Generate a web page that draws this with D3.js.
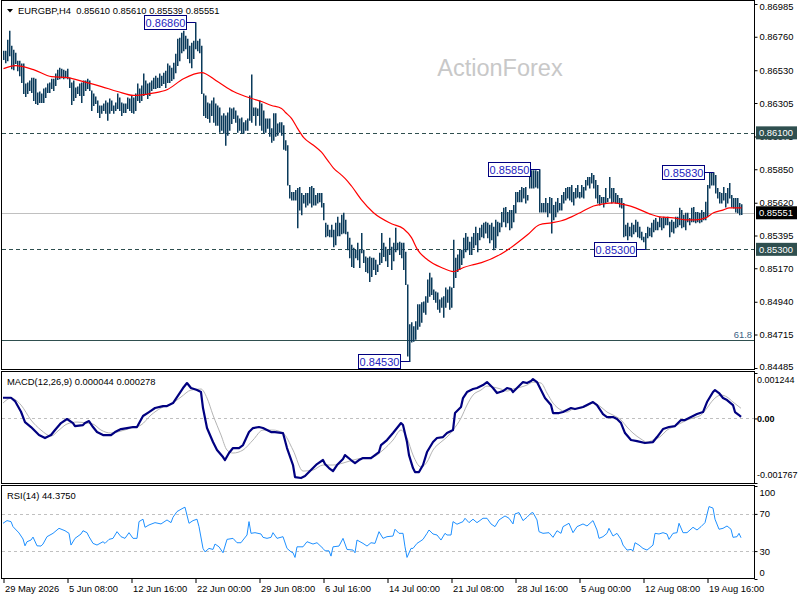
<!DOCTYPE html>
<html><head><meta charset="utf-8">
<script src="https://cdn.jsdelivr.net/npm/d3@7/dist/d3.min.js"></script>
<style>html,body{margin:0;padding:0;background:#fff;}svg{display:block;}</style>
</head><body>
<svg id="c" width="800" height="600"></svg>
<script>
// ---------------- DATA ----------------
const symbol = "EURGBP,H4";
const lastOHLC = [0.85610, 0.85610, 0.85539, 0.85551];
const watermark = "ActionForex";

// H4 bar highs and lows (370 bars, 29 May 2026 -> 24 Aug 2026)
const highs = [
.86664,.86664,.86739,.86801,.86698,.86671,.86650,.86596,.86596,.86576,
.86576,.86439,.86445,.86459,.86479,.86479,.86472,.86377,.86384,.86371,
.86405,.86412,.86439,.86445,.86472,.86472,.86507,.86534,.86548,.86541,
.86534,.86527,.86541,.86479,.86445,.86459,.86412,.86418,.86439,.86445,
.86459,.86459,.86472,.86459,.86391,.86371,.86350,.86322,.86288,.86288,
.86302,.86322,.86308,.86336,.86322,.86288,.86308,.86371,.86343,.86308,
.86302,.86302,.86343,.86336,.86357,.86343,.86371,.86439,.86405,.86425,
.86507,.86459,.86439,.86445,.86459,.86479,.86493,.86479,.86507,.86493,
.86513,.86527,.86576,.86562,.86548,.86582,.86643,.86746,.86753,.86787,
.86801,.86767,.86746,.86698,.86719,.86732,.86860,.86732,.86746,.86698,
.86371,.86357,.86308,.86302,.86322,.86343,.86302,.86288,.86274,.86220,
.86234,.86220,.86240,.86274,.86268,.86274,.86254,.86220,.86199,.86206,
.86172,.86186,.86199,.86357,.86500,.86274,.86274,.86268,.86322,.86302,
.86254,.86199,.86199,.86199,.86131,.86234,.86234,.86165,.86172,.86172,
.86152,.86049,.86015,.85742,.85694,.85694,.85708,.85722,.85728,.85687,
.85674,.85687,.85687,.85728,.85735,.85722,.85674,.85687,.85687,.85687,
.85619,.85482,.85469,.85434,.85469,.85434,.85482,.85523,.85482,.85537,
.85551,.85503,.85421,.85380,.85332,.85311,.85298,.85345,.85298,.85413,
.85298,.85250,.85243,.85250,.85243,.85243,.85229,.85195,.85277,.85413,
.85345,.85318,.85298,.85380,.85318,.85345,.85448,.85345,.85352,.85345,
.85345,.85284,.85059,.84785,.84799,.84772,.84806,.84922,.84922,.84936,
.84942,.84977,.85093,.85140,.85107,.85025,.85011,.85004,.84956,.84970,
.84977,.85038,.85025,.85045,.85038,.85366,.85243,.85264,.85298,.85298,
.85380,.85413,.85386,.85352,.85386,.85413,.85455,.85413,.85448,.85469,
.85482,.85489,.85482,.85469,.85482,.85455,.85503,.85489,.85482,.85557,
.85585,.85591,.85557,.85571,.85571,.85605,.85694,.85694,.85708,.85728,
.85722,.85728,.85674,.85810,.85844,.85844,.85844,.85837,.85850,.85619,
.85619,.85653,.85619,.85660,.85653,.85605,.85626,.85653,.85619,.85674,
.85694,.85722,.85728,.85728,.85742,.85694,.85722,.85742,.85694,.85742,
.85728,.85776,.85797,.85797,.85824,.85810,.85776,.85742,.85674,.85660,
.85660,.85722,.85653,.85797,.85722,.85722,.85687,.85674,.85653,.85653,
.85619,.85469,.85482,.85455,.85482,.85469,.85503,.85489,.85455,.85421,
.85386,.85413,.85455,.85448,.85482,.85503,.85516,.85489,.85523,.85516,
.85523,.85516,.85523,.85489,.85503,.85489,.85523,.85523,.85585,.85571,
.85537,.85551,.85551,.85516,.85585,.85591,.85557,.85557,.85551,.85571,
.85557,.85626,.85742,.85824,.85824,.85830,.85810,.85722,.85694,.85687,
.85728,.85687,.85722,.85756,.85674,.85653,.85653,.85653,.85619,.85610];
const lows = [
.86603,.86582,.86596,.86630,.86541,.86534,.86576,.86527,.86493,.86445,
.86371,.86350,.86371,.86391,.86377,.86322,.86302,.86295,.86308,.86308,
.86308,.86343,.86377,.86377,.86405,.86391,.86425,.86466,.86472,.86479,
.86472,.86479,.86472,.86412,.86295,.86322,.86343,.86371,.86357,.86308,
.86357,.86391,.86405,.86391,.86254,.86288,.86302,.86240,.86206,.86234,
.86254,.86234,.86186,.86234,.86254,.86234,.86254,.86268,.86254,.86220,
.86240,.86240,.86268,.86254,.86240,.86234,.86254,.86322,.86308,.86322,
.86357,.86371,.86336,.86357,.86391,.86405,.86405,.86412,.86412,.86425,
.86439,.86412,.86445,.86445,.86459,.86472,.86513,.86562,.86596,.86650,
.86664,.86678,.86610,.86582,.86548,.86610,.86678,.86664,.86650,.86371,
.86220,.86206,.86199,.86172,.86220,.86172,.86152,.86152,.86104,.86118,
.86097,.86015,.86083,.86118,.86165,.86199,.86172,.86104,.86118,.86097,
.86097,.86118,.86118,.86186,.86172,.86220,.86152,.86220,.86152,.86118,
.86097,.86104,.86131,.86076,.86035,.86049,.86076,.86083,.86104,.86083,
.85988,.85981,.85742,.85653,.85639,.85639,.85639,.85448,.85571,.85537,
.85619,.85591,.85605,.85619,.85591,.85605,.85605,.85619,.85626,.85591,
.85503,.85386,.85393,.85386,.85386,.85318,.85332,.85393,.85393,.85407,
.85413,.85407,.85298,.85243,.85182,.85175,.85243,.85229,.85175,.85277,
.85209,.85147,.85140,.85079,.85113,.85161,.85127,.85147,.85195,.85209,
.85250,.85222,.85182,.85264,.85161,.85222,.85284,.85298,.85264,.85243,
.85161,.85059,.84567,.84530,.84663,.84669,.84683,.84751,.84772,.84799,
.84868,.84854,.84936,.84977,.84990,.84956,.84936,.84888,.84868,.84902,
.84834,.84902,.84936,.84888,.84902,.85038,.85107,.85147,.85161,.85195,
.85243,.85284,.85298,.85264,.85264,.85311,.85332,.85284,.85366,.85386,
.85380,.85413,.85380,.85345,.85366,.85298,.85311,.85393,.85421,.85455,
.85489,.85455,.85482,.85434,.85448,.85489,.85551,.85626,.85626,.85626,
.85653,.85619,.85639,.85722,.85722,.85722,.85728,.85722,.85557,.85557,
.85557,.85557,.85523,.85551,.85413,.85503,.85523,.85557,.85571,.85571,
.85619,.85639,.85653,.85639,.85626,.85605,.85653,.85660,.85653,.85660,
.85653,.85708,.85742,.85722,.85756,.85722,.85653,.85619,.85605,.85619,
.85591,.85619,.85626,.85653,.85619,.85626,.85619,.85619,.85591,.85584,
.85386,.85393,.85366,.85393,.85386,.85407,.85421,.85386,.85380,.85366,
.85352,.85300,.85380,.85393,.85386,.85421,.85434,.85434,.85455,.85434,
.85448,.85469,.85469,.85386,.85421,.85413,.85448,.85455,.85469,.85448,
.85455,.85434,.85489,.85469,.85489,.85489,.85482,.85489,.85482,.85489,
.85503,.85503,.85523,.85722,.85742,.85742,.85687,.85653,.85619,.85619,
.85639,.85591,.85619,.85653,.85591,.85584,.85557,.85551,.85537,.85539];

// Moving average (red) read at bar indices
const maBar = [0,6,15,24,32,40,49,57,65,74,82,90,99,107,115,124,129,134,139,141,144,147,150,155,159,162,165,169,172,174,179,185,194,200,204,207,212,219,225,230,235,239,249,255,262,268,274,279,284,289,295,300,305,311,316,323,328,335,341,346,351,355,360,363,369];
const maVal = [.86541,.86562,.86534,.86486,.86479,.86452,.86418,.86384,.86357,.86371,.86398,.86472,.86514,.86452,.86384,.86336,.86315,.86288,.86268,.86240,.86199,.86131,.86069,.86015,.85967,.85913,.85858,.85810,.85769,.85735,.85639,.85551,.85476,.85441,.85380,.85298,.85229,.85175,.85147,.85175,.85195,.85209,.85270,.85325,.85400,.85469,.85482,.85496,.85523,.85557,.85598,.85612,.85619,.85605,.85585,.85544,.85523,.85516,.85503,.85503,.85516,.85551,.85571,.85585,.85585];

// MACD(12,26,9) main line
const macdBar = [0,4,6,9,11,14,16,18,21,24,26,29,32,35,36,40,41,43,45,47,50,54,56,59,62,65,67,70,73,76,80,82,85,87,90,92,94,97,99,100,102,105,107,110,111,113,115,118,120,123,125,128,130,132,134,136,140,142,145,146,149,151,154,157,160,161,163,165,167,170,171,174,176,178,180,184,186,188,189,192,195,197,199,200,202,203,205,206,208,210,212,215,217,220,222,225,226,229,230,232,235,237,240,242,245,247,250,252,254,255,257,260,262,264,265,267,269,271,274,275,278,280,284,286,290,293,295,297,300,302,305,307,309,311,314,317,321,325,327,330,333,336,339,341,344,347,350,352,355,356,358,360,362,365,366,368,369];
const macdVal = [567e-6,567e-6,476e-6,183e-6,-99e-6,-235e-6,-345e-6,-454e-6,-536e-6,-454e-6,
-318e-6,-126e-6,-16e-6,-126e-6,-208e-6,-181e-6,-126e-6,-71e-6,-235e-6,-372e-6,
-454e-6,-454e-6,-372e-6,-290e-6,-263e-6,-235e-6,-235e-6,66e-6,175e-6,285e-6,
339e-6,339e-6,421e-6,586e-6,832e-6,969e-6,832e-6,777e-6,723e-6,285e-6,
-263e-6,-646e-6,-865e-6,-1056e-6,-1138e-6,-947e-6,-810e-6,-810e-6,-728e-6,-372e-6,
-263e-6,-235e-6,-263e-6,-318e-6,-372e-6,-372e-6,-400e-6,-810e-6,-1275e-6,-1604e-6,
-1631e-6,-1577e-6,-1412e-6,-1248e-6,-1138e-6,-1248e-6,-1358e-6,-1440e-6,-1275e-6,-1111e-6,
-1002e-6,-1138e-6,-1221e-6,-1138e-6,-1084e-6,-1084e-6,-1002e-6,-920e-6,-728e-6,-591e-6,
-400e-6,-263e-6,-126e-6,-181e-6,-646e-6,-1002e-6,-1358e-6,-1467e-6,-1467e-6,-1275e-6,
-920e-6,-646e-6,-536e-6,-509e-6,-400e-6,-318e-6,148e-6,312e-6,558e-6,723e-6,
805e-6,832e-6,914e-6,996e-6,832e-6,695e-6,750e-6,832e-6,805e-6,723e-6,
832e-6,996e-6,969e-6,1024e-6,1078e-6,996e-6,777e-6,558e-6,367e-6,148e-6,
148e-6,175e-6,285e-6,257e-6,312e-6,394e-6,449e-6,367e-6,120e-6,38e-6,
38e-6,-16e-6,-126e-6,-400e-6,-591e-6,-619e-6,-673e-6,-646e-6,-509e-6,-290e-6,
-235e-6,-208e-6,-44e-6,-44e-6,38e-6,120e-6,175e-6,449e-6,723e-6,777e-6,
695e-6,558e-6,504e-6,367e-6,175e-6,93e-6,44e-6];
// MACD signal line
const sigBar = [0,4,9,14,19,24,28,32,37,42,45,49,54,59,64,69,74,79,84,89,94,99,102,105,109,112,115,120,125,130,135,140,145,150,155,160,165,170,175,180,185,190,195,199,202,205,209,212,215,219,222,225,229,232,235,239,242,245,249,252,255,259,262,265,269,272,275,279,282,285,289,292,295,299,302,305,309,312,315,319,322,325,329,332,335,339,342,345,349,352,355,359,362,365,369];
const sigVal = [421e-6,558e-6,367e-6,-44e-6,-318e-6,-482e-6,-318e-6,-153e-6,-99e-6,-126e-6,
-153e-6,-318e-6,-400e-6,-345e-6,-263e-6,-181e-6,93e-6,285e-6,394e-6,586e-6,
777e-6,805e-6,558e-6,93e-6,-454e-6,-865e-6,-947e-6,-865e-6,-591e-6,-318e-6,
-318e-6,-400e-6,-865e-6,-1440e-6,-1412e-6,-1275e-6,-1275e-6,-1221e-6,-1138e-6,-1084e-6,
-1056e-6,-865e-6,-591e-6,-318e-6,-536e-6,-1002e-6,-1330e-6,-1193e-6,-865e-6,-646e-6,
-509e-6,-318e-6,11e-6,367e-6,640e-6,777e-6,887e-6,859e-6,805e-6,750e-6,
805e-6,859e-6,914e-6,996e-6,969e-6,695e-6,421e-6,230e-6,175e-6,257e-6,
285e-6,339e-6,421e-6,312e-6,175e-6,93e-6,-44e-6,-235e-6,-400e-6,-564e-6,
-646e-6,-591e-6,-482e-6,-318e-6,-235e-6,-126e-6,-44e-6,11e-6,93e-6,285e-6,
504e-6,640e-6,586e-6,449e-6,278e-6];

// RSI(14)
const rsiBar = [0,2,4,5,8,10,11,12,14,15,17,19,20,22,25,26,28,31,33,34,36,39,40,42,43,45,47,50,51,53,55,57,59,61,63,65,67,68,70,71,73,76,79,82,84,85,87,90,91,93,95,97,98,100,101,103,105,106,108,110,112,115,117,119,120,122,123,124,126,129,130,132,134,135,137,140,142,144,145,146,147,150,152,155,157,160,161,163,164,165,168,170,172,175,176,177,180,182,184,186,188,190,192,195,196,198,200,201,202,204,205,207,209,210,212,213,215,217,219,221,222,224,225,227,230,231,233,235,237,240,242,244,246,248,251,253,255,256,258,260,262,264,265,267,268,270,273,275,277,279,280,283,285,287,290,292,295,297,298,300,302,303,305,307,309,310,312,314,315,316,318,320,322,324,325,326,328,330,332,333,335,337,338,340,342,345,347,349,351,353,355,356,358,360,362,364,365,367,368,369];
const rsiVal = [59.9,62.8,61.7,56.3,49.5,43.0,35.7,40.1,41.9,45.1,35.7,35.4,37.6,45.5,49.1,50.9,54.5,51.9,49.1,36.5,
43.7,48.4,51.9,49.8,45.5,38.3,36.5,40.1,38.3,42.6,43.7,50.9,45.5,43.7,49.8,43.7,43.7,61.7,64.3,55.6,
58.1,60.6,59.2,63.5,60.6,66.4,72.5,76.2,77.2,59.9,62.8,64.3,56.3,32.9,29.2,32.9,31.8,37.6,34.6,28.2,
42.6,43.7,39.0,39.0,41.9,47.3,61.7,49.1,49.8,48.4,44.8,43.7,44.8,49.8,43.7,45.5,32.9,29.2,28.2,23.2,
34.6,34.6,40.1,37.6,39.0,32.9,30.3,30.3,24.6,34.6,35.4,43.7,31.8,31.1,28.2,41.9,38.3,35.4,39.0,38.3,
50.9,43.7,45.5,46.2,53.5,49.1,49.1,34.6,23.2,32.9,32.9,38.3,41.1,42.6,49.1,52.7,48.4,47.3,41.9,49.1,
47.3,47.3,61.7,58.9,61.7,65.3,60.6,64.3,60.6,65.3,65.3,59.2,56.3,63.5,67.8,65.3,59.2,70.0,71.4,62.8,
66.4,70.8,71.4,63.5,50.9,49.1,49.8,44.8,51.9,49.1,56.3,59.9,49.8,56.3,59.2,57.0,62.8,52.7,43.7,45.5,
49.1,54.5,46.2,49.1,42.6,36.5,31.1,31.8,30.3,39.0,36.5,32.9,31.1,34.6,36.5,49.1,48.4,49.8,48.4,42.6,
49.1,49.8,59.9,49.8,49.8,55.6,52.7,56.3,60.6,77.9,76.2,64.3,53.5,54.5,57.0,53.5,44.8,45.5,49.1,44.375];

// swing high/low annotations
const annBar = [96, 268, 355, 203, 321];
const annVal = [0.86860, 0.85850, 0.85830, 0.84530, 0.85300];

// horizontal levels
const levelVals = [0.86100, 0.85300];
const fibVal = 0.84676, fibLabel = "61.8";

// axis ticks
const priceTicks = [0.86985,0.86760,0.86530,0.86305,0.86075,0.85850,0.85620,0.85395,0.85170,0.84940,0.84715,0.84485];
const macdTicks = [0.001244, 0, -0.001767];
const macdTickLabels = ["0.001244", "0.00", "-0.001767"];
const rsiTicks = [100, 70, 30, 0];
const rsiLevels = [70, 30];
const timeBars = [0,32,64,96,128,160,192,224,256,288,320,352];
const timeLabels = ["29 May 2026","5 Jun 08:00","12 Jun 16:00","22 Jun 00:00","29 Jun 08:00","6 Jul 16:00","14 Jul 00:00","21 Jul 08:00","28 Jul 16:00","5 Aug 00:00","12 Aug 08:00","19 Aug 16:00"];

// ---------------- DRAW ----------------
const FONT = "'Liberation Sans', Arial, sans-serif";
const FS = 9.4;
const svg = d3.select("#c");
const L = 2, R = 754;
const x = d3.scaleLinear().domain([0, highs.length - 1]).range([3, 741]);
const yP = d3.scaleLinear().domain([0.84485, 0.86985]).range([368, 4]);
const yM = d3.scaleLinear().domain([-0.001767, 0.001244]).range([483, 373]);
const yR = d3.scaleLinear().domain([0, 100]).range([579, 486]);

// watermark
svg.append("text").attr("x", 500).attr("y", 76).attr("text-anchor", "middle")
  .attr("font-family", FONT).attr("font-size", 23.5).attr("fill", "#c8c8c8").text(watermark);

// levels
svg.selectAll(".lvl").data(levelVals).enter().append("line")
  .attr("x1", L).attr("x2", R).attr("y1", d => Math.round(yP(d)) + 0.5).attr("y2", d => Math.round(yP(d)) + 0.5)
  .attr("stroke", "#2f4f4f").attr("stroke-dasharray", "4,3").attr("stroke-width", 1);
svg.append("line").attr("x1", L).attr("x2", R).attr("y1", Math.round(yP(fibVal)) + 0.5).attr("y2", Math.round(yP(fibVal)) + 0.5)
  .attr("stroke", "#2f4f4f").attr("stroke-width", 1);
svg.append("text").attr("x", 752).attr("y", yP(fibVal) - 2.5).attr("text-anchor", "end")
  .attr("font-family", FONT).attr("font-size", FS).attr("fill", "#3a5f7f").text(fibLabel);
// current price line
svg.append("line").attr("x1", L).attr("x2", R).attr("y1", Math.round(yP(lastOHLC[3])) + 0.5).attr("y2", Math.round(yP(lastOHLC[3])) + 0.5)
  .attr("stroke", "#c0c0c0").attr("stroke-width", 1);

// bars
svg.append("g").selectAll("line").data(highs).enter().append("line")
  .attr("x1", (d, i) => x(i) + 0.75).attr("x2", (d, i) => x(i) + 0.75)
  .attr("y1", d => yP(d)).attr("y2", (d, i) => yP(lows[i]) + 0.5)
  .attr("stroke", "#0a3a5a").attr("stroke-width", 1.5);

// moving average
svg.append("path").datum(maBar.map((b, i) => [b, maVal[i]]))
  .attr("d", d3.line().x(d => x(d[0]) + 0.5).y(d => yP(d[1])).curve(d3.curveMonotoneX))
  .attr("fill", "none").attr("stroke", "#ff0000").attr("stroke-width", 1.2);

// annotations
annBar.forEach((b, i) => {
  const bx = x(b) + 0.75, by = Math.round(yP(annVal[i])) + 0.5;
  const w = 42, h = 14, rx = Math.round(bx - 10) + 0.5;
  svg.append("line").attr("x1", rx).attr("x2", bx).attr("y1", by).attr("y2", by)
    .attr("stroke", "#00007f").attr("stroke-width", 1);
  svg.append("rect").attr("x", rx - w).attr("y", by - h / 2).attr("width", w).attr("height", h)
    .attr("fill", "#fff").attr("stroke", "#00007f").attr("stroke-width", 1);
  svg.append("text").attr("x", rx - w / 2).attr("y", by + 4.2).attr("text-anchor", "middle")
    .attr("font-family", FONT).attr("font-size", 11).attr("fill", "#2424c0").text(annVal[i].toFixed(5));
});

// MACD panel
svg.append("line").attr("x1", L).attr("x2", R).attr("y1", Math.round(yM(0)) + 0.5).attr("y2", Math.round(yM(0)) + 0.5)
  .attr("stroke", "#c0c0c0").attr("stroke-dasharray", "3,3");
svg.append("path").datum(sigBar.map((b, i) => [b, sigVal[i]]))
  .attr("d", d3.line().x(d => x(d[0])).y(d => yM(d[1])).curve(d3.curveMonotoneX))
  .attr("fill", "none").attr("stroke", "#b4b4b4").attr("stroke-width", 1);
svg.append("path").datum(macdBar.map((b, i) => [b, macdVal[i]]))
  .attr("d", d3.line().x(d => x(d[0])).y(d => yM(d[1])))
  .attr("fill", "none").attr("stroke", "#000080").attr("stroke-width", 2.2).attr("stroke-linejoin", "round");

// RSI panel
svg.selectAll(".rl").data(rsiLevels).enter().append("line")
  .attr("x1", L).attr("x2", R).attr("y1", d => Math.round(yR(d)) + 0.5).attr("y2", d => Math.round(yR(d)) + 0.5)
  .attr("stroke", "#c0c0c0").attr("stroke-dasharray", "3,3");
svg.append("path").datum(rsiBar.map((b, i) => [b, rsiVal[i]]))
  .attr("d", d3.line().x(d => x(d[0])).y(d => yR(d[1])))
  .attr("fill", "none").attr("stroke", "#1e90ff").attr("stroke-width", 1);

// panel borders
[[0.5, 369], [371.5, 112], [485.5, 93]].forEach(p => {
  svg.append("rect").attr("x", 1.5).attr("y", p[0]).attr("width", 753).attr("height", p[1])
    .attr("fill", "none").attr("stroke", "#000").attr("stroke-width", 1);
});

// right axes
function rightAxis(scale, vals, fmt, top, bot, pad, fs) {
  const g = svg.append("g").attr("transform", `translate(${R + 0.5},0)`)
    .call(d3.axisRight(scale).tickValues(vals).tickFormat(fmt).tickSize(3).tickPadding(pad));
  g.select(".domain").remove();
  g.attr("font-family", FONT).attr("font-size", fs);
  g.selectAll(".tick line").attr("stroke", "#000");
  g.selectAll(".tick").each(function (d) {
    const yy = scale(d), cy = Math.max(top, Math.min(bot, yy));
    const t = d3.select(this).select("text").attr("y", cy - yy).attr("fill", "#000");
    if (d === 0 && scale === yM) t.attr("font-weight", "bold");
  });
  return g;
}
rightAxis(yP, priceTicks, d3.format(".5f"), 6, 366, 2, FS);
rightAxis(yM, macdTicks, (d, i) => macdTickLabels[i], 380, 475, -0.5, 9);
rightAxis(yR, rsiTicks, d => String(d), 492, 572, 2, FS);

// price boxes on axis (drawn over the tick labels they hide)
function axisBox(v, fill) {
  const yy = yP(v);
  svg.append("rect").attr("x", 756).attr("y", yy - 6.5).attr("width", 41).attr("height", 13).attr("fill", fill);
  svg.append("text").attr("x", 759).attr("y", yy + 3.3).attr("font-family", FONT).attr("font-size", FS)
    .attr("fill", "#fff").text(v.toFixed(5));
}
levelVals.forEach(v => axisBox(v, "#2f4f4f"));
axisBox(lastOHLC[3], "#000");

// time axis
const tg = svg.append("g").attr("transform", "translate(0,579)")
  .call(d3.axisBottom(x).tickValues(timeBars).tickFormat((d, i) => timeLabels[i]).tickSize(4).tickPadding(2));
tg.select(".domain").remove();
tg.attr("font-family", FONT).attr("font-size", FS);
tg.selectAll(".tick line").attr("stroke", "#000").attr("transform", "translate(0.5,0)");
tg.selectAll("text").attr("text-anchor", "start").attr("x", 1.5).attr("dy", null).attr("y", 13).attr("fill", "#000");

// headers
svg.append("path").attr("d", "M7,9 L13,9 L10,12.5 Z").attr("fill", "#000");
svg.append("text").attr("x", 18).attr("y", 14).attr("font-family", FONT).attr("font-size", FS)
  .style("white-space", "pre").attr("fill", "#000")
  .text(symbol + "  " + lastOHLC.map(v => v.toFixed(5)).join(" "));
svg.append("text").attr("x", 7).attr("y", 384.5).attr("font-family", FONT).attr("font-size", FS).attr("fill", "#000")
  .text("MACD(12,26,9) " + macdVal[macdVal.length - 1].toFixed(6) + " " + sigVal[sigVal.length - 1].toFixed(6));
svg.append("text").attr("x", 7).attr("y", 498.5).attr("font-family", FONT).attr("font-size", FS).attr("fill", "#000")
  .text("RSI(14) " + rsiVal[rsiVal.length - 1].toFixed(4));
</script>
</body></html>
